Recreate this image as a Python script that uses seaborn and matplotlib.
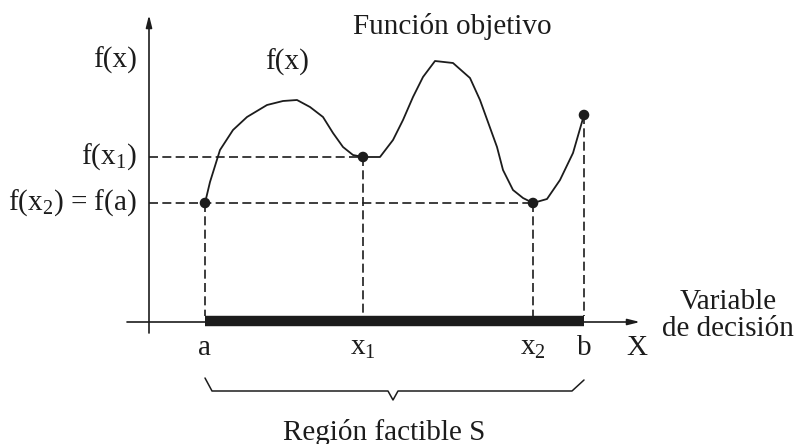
import matplotlib
matplotlib.use("Agg")
import matplotlib.pyplot as plt
import seaborn as sns
import pandas as pd

sns.set_theme(style="white")
plt.rcParams["font.family"] = ["Liberation Serif", "DejaVu Serif"]
plt.rcParams["mathtext.fontset"] = "custom"
plt.rcParams["mathtext.rm"] = "Liberation Serif"
plt.rcParams["mathtext.it"] = "Liberation Serif"

# Objective function sampled along the decision variable
curve_x = [56, 61, 71, 84, 98, 118, 134, 148, 161, 174, 184, 194, 204, 214,
           231, 244, 254, 264, 274, 286, 304, 321, 331, 348, 354, 364, 374,
           384, 398, 411, 424, 435]
curve_y = [119, 140, 172, 192, 205, 217, 221, 222, 215, 205, 189, 175, 167, 165,
           165, 182, 202, 225, 245, 261, 259, 244, 222, 175, 152, 132, 124,
           119, 123, 142, 169, 207]

# Marked points: a, x1, x2, b
point_names = ["a", "x1", "x2", "b"]
point_x = [56, 214, 384, 435]
point_y = [119, 165, 119, 207]
point_labels = ["a", r"$\mathrm{x}_1$", r"$\mathrm{x}_2$", "b"]

# Levels shown on the vertical axis
level_values = [165, 119]
level_labels = [r"f($\mathrm{x}_1$)", r"f($\mathrm{x}_2$) = f(a)"]

curve = pd.DataFrame({"x": curve_x, "y": curve_y})
points = pd.DataFrame({"x": point_x, "y": point_y, "name": point_names})

fig = plt.figure(figsize=(7.97, 4.44), dpi=100)
ax = fig.add_axes([0, 0, 1, 1])
ax.set_xlim(-149, 648)
ax.set_ylim(-122, 322)
ax.axis("off")

ink = "#1c1c1c"
fs = 21

# Coordinate axes with arrow heads
ax.annotate("", xy=(0, 307), xytext=(0, -11),
            arrowprops=dict(arrowstyle="-|>,head_length=0.6,head_width=0.15",
                            color=ink, lw=1.2, shrinkA=0, shrinkB=0))
ax.annotate("", xy=(491, 0), xytext=(-22, 0),
            arrowprops=dict(arrowstyle="-|>,head_length=0.6,head_width=0.15",
                            color=ink, lw=1.2, shrinkA=0, shrinkB=0))

# Feasible interval [a, b]
ax.plot([point_x[0], point_x[-1]], [1, 1], color=ink, lw=7.5,
        solid_capstyle="butt", zorder=3)

# Guide lines from the marked points
dash = (0, (5.4, 2.6))
for px, py in zip(point_x, point_y):
    ax.plot([px, px], [py, 6], color=ink, lw=1.2, linestyle=dash)
for lv, px in zip(level_values, [point_x[1], point_x[2]]):
    ax.plot([0, px], [lv, lv], color=ink, lw=1.2, linestyle=dash)

sns.lineplot(data=curve, x="x", y="y", ax=ax, color=ink, lw=1.3,
             sort=False, estimator=None)
sns.scatterplot(data=points, x="x", y="y", ax=ax, color=ink, s=58,
                edgecolor="none", zorder=5, legend=False)

# Labels
ax.text(-12, 262, "f(x)", fontsize=fs, ha="right", va="center", color=ink)
ax.text(138, 260, "f(x)", fontsize=fs, ha="center", va="center", color=ink)
ax.text(303, 295, "Función objetivo", fontsize=fs, ha="center", va="center",
        color=ink)
for lv, lab in zip(level_values, level_labels):
    ax.text(-12, lv, lab, fontsize=fs, ha="right", va="center", color=ink)
for px, lab in zip(point_x, point_labels):
    ax.text(px, -26, lab, fontsize=fs, ha="center", va="center", color=ink)
ax.text(488, -26, "X", fontsize=fs, ha="center", va="center", color=ink)
ax.text(579, 20, "Variable", fontsize=fs, ha="center", va="center", color=ink)
ax.text(579, -7, "de decisión", fontsize=fs, ha="center", va="center",
        color=ink)

# Brace under the feasible region
brace_x = [56, 63, 239, 244, 249, 423, 435]
brace_y = [-56, -69, -69, -78, -69, -69, -58]
ax.plot(brace_x, brace_y, color=ink, lw=1.1)
ax.text(235, -110, "Región factible S", fontsize=fs, ha="center", va="center",
        color=ink)

fig.savefig("out.png", dpi=100)
